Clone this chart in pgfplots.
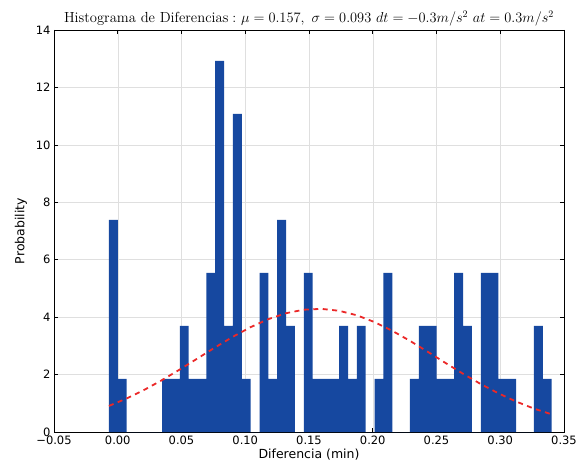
\documentclass[border=0pt]{standalone}
\usepackage{fontspec}
\setsansfont{DejaVu Sans}
\usepackage{pgfplots}
\pgfplotsset{compat=1.18}
\definecolor{barblue}{RGB}{22,72,160}
\definecolor{curvered}{RGB}{235,40,40}
\begin{document}
\begin{tikzpicture}
\begin{axis}[
  set layers,
  width=510pt, height=402pt, scale only axis,
  xmin=-0.05, xmax=0.35, ymin=0, ymax=14,
  xtick={-0.05,0,0.05,0.1,0.15,0.2,0.25,0.3,0.35},
  xticklabels={−0.05,0.00,0.05,0.10,0.15,0.20,0.25,0.30,0.35},
  ytick={0,2,4,6,8,10,12,14},
  yticklabels={0,2,4,6,8,10,12,14},
  tick label style={font=\sffamily\fontsize{11.5}{13}\selectfont},
  tick align=inside, xtick pos=both, ytick pos=both,
  major tick length=4pt,
  tick style={black, line width=0.6pt},
  grid=major, grid style={gray!25, line width=0.5pt},
  axis line style={line width=0.8pt, on layer=axis foreground},
  xlabel={Diferencia (min)}, ylabel={Probability},
  label style={font=\sffamily\fontsize{12.5}{14}\selectfont},
  xlabel style={yshift=2pt},
  ylabel style={yshift=2pt},
  title={$\mathrm{Histograma\ de\ Diferencias:}\ \mu=0.157,\ \sigma=0.093\ dt=-0.3m/s^2\ at=0.3m/s^2$},
  title style={font=\fontsize{14.6}{17}\selectfont, yshift=-6pt},
]
\addplot[ybar interval, fill=barblue, draw=none] coordinates {
(-0.0069,7.385) (0.0000,1.846) (0.0070,0) (0.0139,0) (0.0209,0) (0.0278,0)
(0.0348,1.846) (0.0417,1.846) (0.0487,3.693) (0.0556,1.846) (0.0625,1.846)
(0.0695,5.539) (0.0764,12.924) (0.0834,3.693) (0.0903,11.078) (0.0973,1.846)
(0.1042,0) (0.1112,5.539) (0.1181,1.846) (0.1250,7.385) (0.1320,3.693)
(0.1389,0) (0.1459,5.539) (0.1528,1.846) (0.1598,1.846) (0.1667,1.846)
(0.1736,3.693) (0.1806,1.846) (0.1875,3.693) (0.1945,0) (0.2014,1.846)
(0.2084,5.539) (0.2153,0) (0.2223,0) (0.2292,1.846) (0.2361,3.693)
(0.2431,3.693) (0.2500,1.846) (0.2570,1.846) (0.2639,5.539) (0.2709,3.693)
(0.2778,0) (0.2848,5.539) (0.2917,5.539) (0.2986,1.846) (0.3056,1.846)
(0.3125,0) (0.3195,0) (0.3264,3.693) (0.3334,1.846) (0.3403,0)
};
\addplot[curvered, line width=1.8pt, dash pattern=on 5pt off 4.5pt] coordinates {
(-0.0069,0.908) (0.0070,1.168) (0.0209,1.470) (0.0347,1.807) (0.0486,2.175)
(0.0625,2.560) (0.0764,2.947) (0.0903,3.317) (0.1042,3.651) (0.1181,3.930)
(0.1319,4.136) (0.1458,4.259) (0.1597,4.288) (0.1736,4.222) (0.1875,4.065)
(0.2014,3.828) (0.2153,3.524) (0.2292,3.174) (0.2431,2.794) (0.2569,2.409)
(0.2708,2.029) (0.2847,1.671) (0.2986,1.346) (0.3125,1.060) (0.3264,0.816)
(0.3403,0.615)
};
\end{axis}
\path ([xshift=-54pt,yshift=-36pt]current axis.south west) rectangle ([xshift=18pt,yshift=30pt]current axis.north east);
\end{tikzpicture}
\end{document}
